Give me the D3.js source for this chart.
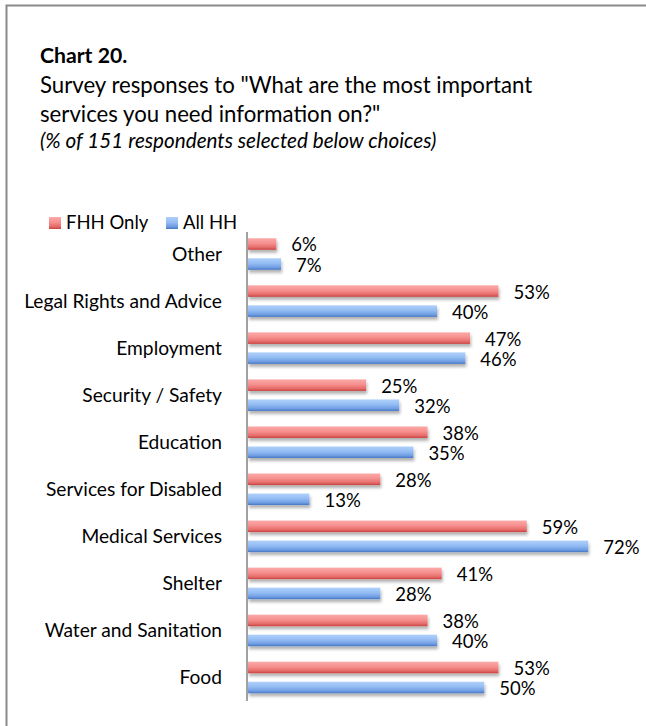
<!DOCTYPE html>
<html>
<head>
<meta charset="utf-8">
<script src="https://cdn.jsdelivr.net/npm/d3@7"></script>
<style>
  html, body { margin: 0; padding: 0; background: #fff; }
  svg { display: block; }
  text { font-family: Lato, "Open Sans", sans-serif; fill: #000; }
</style>
</head>
<body>
<svg id="chart" width="646" height="726"></svg>
<script>
// Services respondents need information on, % of 151 respondents
const categories = [
  "Other",
  "Legal Rights and Advice",
  "Employment",
  "Security / Safety",
  "Education",
  "Services for Disabled",
  "Medical Services",
  "Shelter",
  "Water and Sanitation",
  "Food"
];
const fhhOnly = [6, 53, 47, 25, 38, 28, 59, 41, 38, 53];
const allHH   = [7, 40, 46, 32, 35, 13, 72, 28, 40, 50];
const seriesNames = ["FHH Only", "All HH"];

const titleLines = [
  "Survey responses to \"What are the most important",
  "services you need information on?\""
];
const titleHead = "Chart 20.";
const subtitle = "(% of 151 respondents selected below choices)";

const svg = d3.select("#chart");

// gradients and bar shadow
const defs = svg.append("defs");
function gradient(id, stops) {
  const g = defs.append("linearGradient").attr("id", id)
    .attr("x1", 0).attr("y1", 0).attr("x2", 0).attr("y2", 1);
  stops.forEach(([o, c]) => g.append("stop").attr("offset", o).attr("stop-color", c));
}
gradient("gradRed", [[0, "#fbaaa8"], [0.45, "#f58f8d"], [0.8, "#e46b69"], [1, "#c9423f"]]);
gradient("gradBlue", [[0, "#b0d0fb"], [0.45, "#93bcf3"], [0.8, "#6f9de2"], [1, "#4677c4"]]);
const shadow = defs.append("filter").attr("id", "barShadow")
  .attr("x", "-5%").attr("y", "-40%").attr("width", "115%").attr("height", "220%");
shadow.append("feDropShadow").attr("dx", 1).attr("dy", 3)
  .attr("stdDeviation", 1.6).attr("flood-color", "#000").attr("flood-opacity", 0.3);

// outer frame
svg.append("path")
  .attr("d", "M6.5,730 V5.5 H650")
  .attr("fill", "none").attr("stroke", "#8a8a8a").attr("stroke-width", 2);

// titles
svg.append("text").attr("x", 40).attr("y", 63)
  .attr("font-size", 21.2).attr("font-weight", 700).text(titleHead);
svg.selectAll("text.title").data(titleLines).join("text")
  .attr("class", "title").attr("x", 40).attr("y", (d, i) => 93 + i * 29)
  .attr("font-size", 22.2).text(d => d);
svg.append("text").attr("x", 40).attr("y", 148)
  .attr("font-size", 20.7).attr("font-style", "italic").text(subtitle);

// scales
const x = d3.scaleLinear().domain([0, 80]).range([248, 626]);
const y = d3.scaleBand().domain(categories).range([230.5, 701]);
const sub = d3.scaleBand().domain(seriesNames).range([0, y.bandwidth()])
  .paddingInner(0.425).paddingOuter(0.3875);

const series = [
  { name: seriesNames[0], values: fhhOnly, fill: "url(#gradRed)", swatch: "gradRed" },
  { name: seriesNames[1], values: allHH, fill: "url(#gradBlue)", swatch: "gradBlue" }
];

// bars
const bars = svg.append("g").attr("filter", "url(#barShadow)");
series.forEach(s => {
  bars.selectAll(null).data(categories).join("rect")
    .attr("x", x(0))
    .attr("y", (c) => y(c) + sub(s.name))
    .attr("width", (c, i) => x(s.values[i]) - x(0))
    .attr("height", sub.bandwidth())
    .attr("fill", s.fill);
});

// value labels
series.forEach(s => {
  svg.append("g").selectAll("text").data(categories).join("text")
    .attr("x", (c, i) => x(s.values[i]) + 15)
    .attr("y", c => y(c) + sub(s.name) + sub.bandwidth() / 2 + 1)
    .attr("dy", "0.35em")
    .attr("font-size", 18.5)
    .text((c, i) => s.values[i] + "%");
});

// category axis
const yAxis = d3.axisLeft(y).tickSize(0).tickPadding(0);
const axisG = svg.append("g").attr("transform", "translate(247,0)").call(yAxis);
axisG.select(".domain").attr("stroke", "#8a8a8a").attr("stroke-width", 1.6)
  .attr("d", `M0,${y.range()[0] + 1.5}V${y.range()[1]}`);
axisG.selectAll(".tick text")
  .attr("x", -25).attr("dy", "0.36em")
  .attr("font-size", 19.2).attr("font-family", "Lato, sans-serif").attr("fill", "#000");

// legend
const legend = svg.append("g");
const legendX = [49, 166];
series.forEach((s, i) => {
  legend.append("rect").attr("x", legendX[i]).attr("y", 217)
    .attr("width", 12).attr("height", 12).attr("fill", `url(#${s.swatch})`);
  legend.append("text").attr("x", legendX[i] + 17).attr("y", 228.5)
    .attr("font-size", 18.5).text(s.name);
});
</script>
</body>
</html>
